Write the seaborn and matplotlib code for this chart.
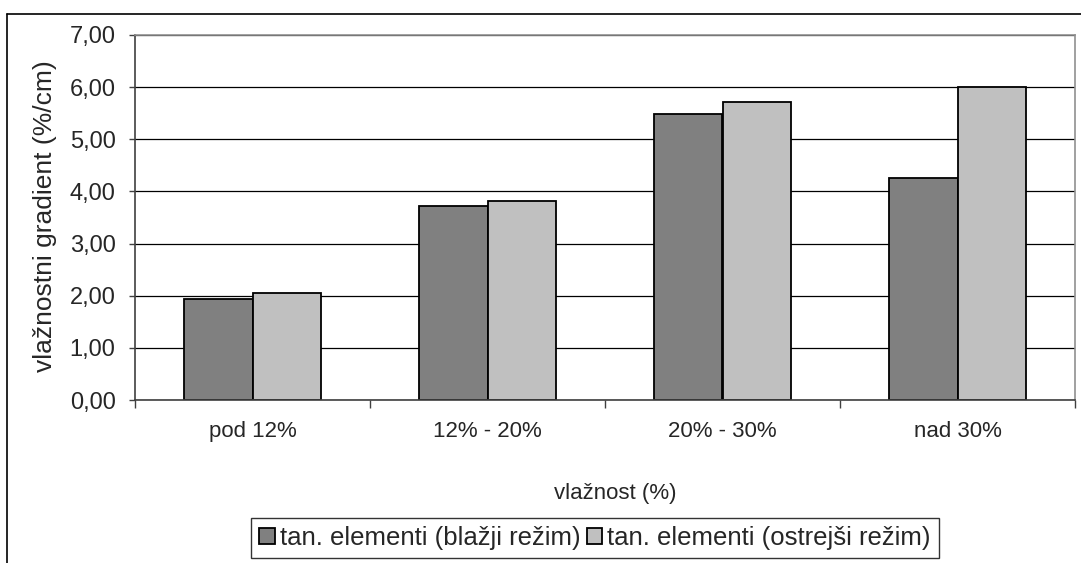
import pandas as pd
import matplotlib
matplotlib.use('Agg')
import matplotlib.pyplot as plt
import seaborn as sns
from matplotlib.ticker import FuncFormatter, FixedLocator
from matplotlib.lines import Line2D

# data
categories = ['pod 12%', '12% - 20%', '20% - 30%', 'nad 30%']
blazji = [1.93, 3.73, 5.49, 4.25]
ostrejsi = [2.05, 3.81, 5.72, 6.01]
series_names = ['tan. elementi (blažji režim)', 'tan. elementi (ostrejši režim)']
colors = ['#808080', '#C0C0C0']

df = pd.DataFrame({
    'kategorija': categories * 2,
    'vrednost': blazji + ostrejsi,
    'serija': [series_names[0]] * 4 + [series_names[1]] * 4,
})

sns.set_style('white')
plt.rcParams['font.family'] = ['Liberation Sans', 'DejaVu Sans']

W, H = 1081, 563
fig = plt.figure(figsize=(W / 100, H / 100), dpi=100)
ax = fig.add_axes([135 / W, 1 - 400 / H, 940 / W, 365 / H])

sns.barplot(data=df, x='kategorija', y='vrednost', hue='serija',
            palette=dict(zip(series_names, colors)), order=categories,
            width=0.58, gap=0, edgecolor='black', linewidth=1.3,
            saturation=1, legend=True, ax=ax)

ax.set_ylim(0, 7)
ax.set_xlim(-0.5, 3.5)
ax.set_yticks(range(0, 8))
ax.yaxis.set_major_formatter(FuncFormatter(lambda v, p: f'{v:.2f}'.replace('.', ',')))
ax.yaxis.grid(True, color='black', linewidth=0.9)
ax.set_axisbelow(True)

ax.tick_params(axis='y', direction='out', length=4, width=1, color='#404040',
               labelsize=17, pad=10, left=True)
ax.tick_params(axis='x', which='major', length=0, labelsize=16, pad=15)
ax.xaxis.set_minor_locator(FixedLocator([-0.5, 0.5, 1.5, 2.5, 3.5]))
ax.tick_params(axis='x', which='minor', direction='out', length=6, width=1,
               color='#404040', bottom=True)

for side in ['top', 'right']:
    ax.spines[side].set_color('#909090')
    ax.spines[side].set_linewidth(1.2)
ax.spines['left'].set_color('#404040')
ax.spines['bottom'].set_color('#404040')
ax.spines['left'].set_linewidth(1.2)
ax.spines['bottom'].set_linewidth(1.2)

ax.set_xlabel('vlažnost (%)', fontsize=16)
ax.xaxis.set_label_coords((615 - 135) / 940, -83 / 365)
ax.set_ylabel('vlažnostni gradient (%/cm)', fontsize=19)
ax.yaxis.set_label_coords((57 - 135) / 940, 0.504)

handles, labels = ax.get_legend_handles_labels()
ax.get_legend().remove()
leg = fig.legend(handles, labels, loc='center', ncol=2,
                 bbox_to_anchor=(595 / W, 1 - 538 / H), fontsize=18.5,
                 frameon=True, fancybox=False, edgecolor='black',
                 handlelength=0.6, handleheight=0.6, handletextpad=0.2,
                 columnspacing=0.25, borderpad=0.3, borderaxespad=0)
leg.get_frame().set_linewidth(1.0)

# outer chart frame (cropped on the right and bottom)
fig.add_artist(Line2D([7 / W, 1], [1 - 14 / H, 1 - 14 / H], color='black', lw=1.2,
                      transform=fig.transFigure))
fig.add_artist(Line2D([7 / W, 7 / W], [0, 1 - 14 / H], color='black', lw=1.2,
                      transform=fig.transFigure))

fig.savefig('out.png', dpi=100)
